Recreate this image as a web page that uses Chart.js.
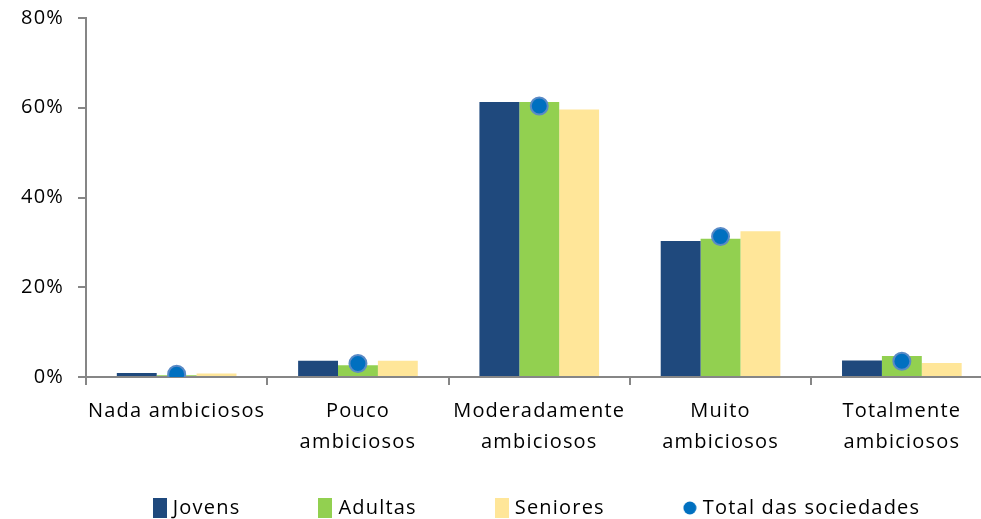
<!DOCTYPE html>
<html>
<head>
<meta charset="utf-8">
<script src="https://cdn.jsdelivr.net/npm/chart.js@4.4.1/dist/chart.umd.min.js"></script>
<style>
  html, body { margin: 0; padding: 0; background: #fff; overflow: hidden; }
  #wrap { width: 1003px; height: 519px; }
</style>
</head>
<body>
<div id="wrap"><canvas id="ambition-chart" width="1003" height="519"></canvas></div>
<script>
  const categories = [
    ["Nada ambiciosos"],
    ["Pouco", "ambiciosos"],
    ["Moderadamente", "ambiciosos"],
    ["Muito", "ambiciosos"],
    ["Totalmente", "ambiciosos"],
  ];
  const jovens = [0.9, 3.6, 61.3, 30.3, 3.7];
  const adultas = [0.4, 2.6, 61.3, 30.8, 4.7];
  const seniores = [0.8, 3.6, 59.6, 32.5, 3.1];
  const totalSociedades = [0.6, 3.0, 60.4, 31.3, 3.5];
  const yTicks = [0, 20, 40, 60, 80];

  const palette = {
    jovens: "#1F497D",
    adultas: "#92D050",
    seniores: "#FFE699",
    total: "#0070C0",
    totalEdge: "#5A8AC6",
    axis: "#868686",
    text: "#000000",
  };

  const fontFamily = "'Open Sans', 'Noto Sans', sans-serif";

  function legendIcon(color, round) {
    const c = document.createElement("canvas");
    c.width = 14;
    c.height = 20;
    const ctx = c.getContext("2d");
    ctx.fillStyle = color;
    if (round) {
      ctx.beginPath();
      ctx.arc(7, 10, 6.5, 0, Math.PI * 2);
      ctx.fill();
    } else {
      ctx.fillRect(0, 0, 14, 20);
    }
    return c;
  }

  // legend: wide gaps between items without eating the plot height
  const legendTweaks = {
    id: "legendTweaks",
    beforeUpdate(chart) {
      chart.ctx.letterSpacing = "1.2px";
      const lg = chart.legend;
      if (lg && !lg._patched) {
        const fit = lg.fit.bind(lg);
        lg.fit = function () {
          fit();
          this.height = 40;
        };
        lg._patched = true;
      }
    },
    afterLayout(chart) {
      chart.legend.left += 37;
      chart.legend.right += 37;
      chart.legend.top = 416;
    },
    beforeDraw(chart) {
      chart.ctx.letterSpacing = "1.2px";
    },
  };

  const barStyle = { borderWidth: 0, barPercentage: 1, categoryPercentage: 0.66, order: 1 };

  new Chart(document.getElementById("ambition-chart"), {
    type: "bar",
    data: {
      labels: categories,
      datasets: [
        { label: "Jovens", data: jovens, backgroundColor: palette.jovens, ...barStyle },
        { label: "Adultas", data: adultas, backgroundColor: palette.adultas, ...barStyle },
        { label: "Seniores", data: seniores, backgroundColor: palette.seniores, ...barStyle },
        {
          type: "line",
          label: "Total das sociedades",
          data: totalSociedades,
          showLine: false,
          pointRadius: 8.5,
          pointBorderWidth: 2,
          pointBackgroundColor: palette.total,
          pointBorderColor: palette.totalEdge,
          order: 0,
        },
      ],
    },
    options: {
      responsive: false,
      animation: false,
      layout: { padding: { top: 18, left: 0, right: 0, bottom: 0 } },
      plugins: {
        tooltip: { enabled: false },
        legend: {
          position: "bottom",
          labels: {
            usePointStyle: true,
            boxWidth: 6,
            boxHeight: 6,
            padding: 82,
            color: palette.text,
            font: { family: fontFamily, size: 20 },
            generateLabels(chart) {
              return chart.data.datasets.map(function (ds, i) {
                const round = ds.type === "line";
                return {
                  text: ds.label,
                  datasetIndex: i,
                  fontColor: palette.text,
                  lineWidth: 0,
                  pointStyle: legendIcon(round ? palette.total : ds.backgroundColor, round),
                };
              });
            },
          },
        },
      },
      scales: {
        x: {
          border: { color: palette.axis, width: 2 },
          grid: { display: true, drawOnChartArea: false, drawTicks: true, tickLength: 8, color: palette.axis, lineWidth: 2 },
          ticks: {
            color: palette.text,
            font: { family: fontFamily, size: 20, lineHeight: 1.55 },
            autoSkip: false,
            maxRotation: 0,
            padding: 11,
          },
          afterFit(scale) {
            scale.height = 102;
          },
        },
        y: {
          min: 0,
          max: 80,
          afterBuildTicks(scale) {
            scale.ticks = yTicks.map(function (v) { return { value: v }; });
          },
          border: { color: palette.axis, width: 2 },
          grid: { display: true, drawOnChartArea: false, drawTicks: true, tickLength: 8, color: palette.axis, lineWidth: 2 },
          ticks: {
            color: palette.text,
            font: { family: fontFamily, size: 20 },
            padding: 14,
            callback(value) { return value + "%"; },
          },
          afterFit(scale) {
            scale.width = 86;
            scale.paddingTop = 0;
            scale.paddingBottom = 0;
          },
        },
      },
    },
    plugins: [legendTweaks],
  });
</script>
</body>
</html>
